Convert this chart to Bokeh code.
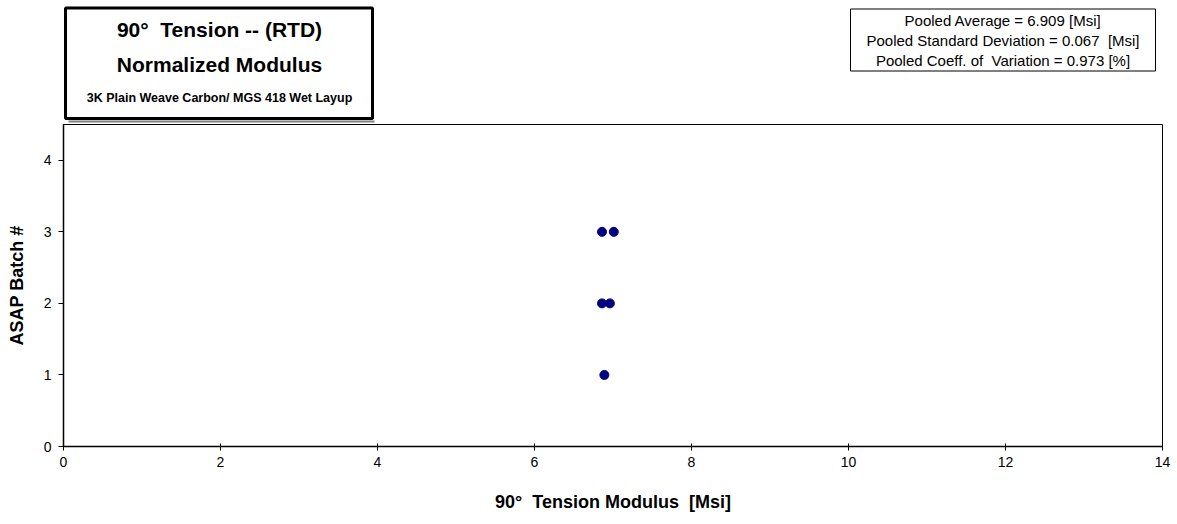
from bokeh.plotting import figure
from bokeh.layouts import column
from bokeh.models import Range1d, FixedTicker
from bokeh.core.properties import value
from bokeh.embed import file_html
from bokeh.resources import INLINE

# ---- data ----
batch = [1, 2, 2, 3, 3]
modulus = [6.89, 6.86, 6.96, 6.86, 7.01]
x_ticks = [0, 2, 4, 6, 8, 10, 12, 14]
y_ticks = [0, 1, 2, 3, 4]
NB = "\u00a0"
title_lines = ["90°" + NB + " Tension -- (RTD)", "Normalized Modulus",
               "3K Plain Weave Carbon/ MGS 418 Wet Layup"]
stats_lines = ["Pooled Average = 6.909 [Msi]",
               "Pooled Standard Deviation = 0.067 " + NB + "[Msi]",
               "Pooled Coeff. of " + NB + "Variation = 0.973 [%]"]
x_title = "90°" + NB + " Tension Modulus " + NB + "[Msi]"
y_title = "ASAP Batch #"

FONT = "Liberation Sans"
W = 1177
TOP_H = 123
FRAME_L, FRAME_R = 63, 1162

# ---- header figure (title box and stats box); frame aligned with main plot ----
top = figure(width=W, height=TOP_H, x_range=Range1d(FRAME_L, FRAME_R), y_range=Range1d(TOP_H, 0),
             x_axis_location=None, y_axis_location=None, toolbar_location=None,
             output_backend="svg", min_border=0,
             min_border_left=FRAME_L, min_border_right=W - FRAME_R)
top.outline_line_color = None
top.xgrid.visible = False
top.ygrid.visible = False

# shadow + title box
top.segment(x0=[68], y0=[121], x1=[374], y1=[121], line_color="#808080", line_width=2)
top.quad(left=[65], right=[372], top=[7.5], bottom=[118], fill_color="white",
         line_color="black", line_width=3)
top.text(x=[219, 219], y=[29, 64], text=title_lines[:2], text_align="center",
         text_baseline="middle", text_font=value(FONT), text_font_style="bold",
         text_font_size="21px", text_color="black")
top.text(x=[219], y=[97], text=title_lines[2:], text_align="center",
         text_baseline="middle", text_font=value(FONT), text_font_style="bold",
         text_font_size="12.5px", text_color="black")

# stats box
top.quad(left=[850], right=[1155], top=[8.5], bottom=[70.5], fill_color="white",
         line_color="black", line_width=1)
top.text(x=[1002.5] * 3, y=[19.5, 39.5, 59.5], text=stats_lines, text_align="center",
         text_baseline="middle", text_font=value(FONT), text_font_size="15px",
         text_color="black")

# ---- main plot ----
p = figure(width=W, height=524 - TOP_H, x_range=Range1d(0, 14), y_range=Range1d(0, 4.5),
           toolbar_location=None, output_backend="svg",
           min_border_left=FRAME_L, min_border_right=W - FRAME_R,
           min_border_top=1, min_border_bottom=78)
p.xgrid.visible = False
p.ygrid.visible = False
p.outline_line_color = "black"
p.outline_line_width = 1

p.scatter(x=modulus, y=batch, size=9, fill_color="#000080", line_color="#000080")

for ax in (p.xaxis[0], p.yaxis[0]):
    ax.axis_line_color = "black"
    ax.axis_line_width = 1.5
    ax.major_tick_line_color = "black"
    ax.minor_tick_line_color = None
    ax.major_label_text_font = FONT
    ax.major_label_text_font_size = "14px"
    ax.major_label_text_color = "black"
    ax.axis_label_text_font = FONT
    ax.axis_label_text_font_size = "18px"
    ax.axis_label_text_font_style = "bold"
    ax.axis_label_text_color = "black"

p.xaxis[0].ticker = FixedTicker(ticks=x_ticks)
p.yaxis[0].ticker = FixedTicker(ticks=y_ticks)
p.xaxis[0].major_tick_in = 3
p.xaxis[0].major_tick_out = 4
p.yaxis[0].major_tick_in = 0
p.yaxis[0].major_tick_out = 5
p.xaxis[0].major_label_standoff = 6
p.yaxis[0].major_label_standoff = 7
p.xaxis[0].axis_label = x_title
p.yaxis[0].axis_label = y_title
p.xaxis[0].axis_label_standoff = 22
p.yaxis[0].axis_label_standoff = 14

layout = column(top, p, spacing=0)
open("out.html", "w").write(file_html(layout, INLINE))
